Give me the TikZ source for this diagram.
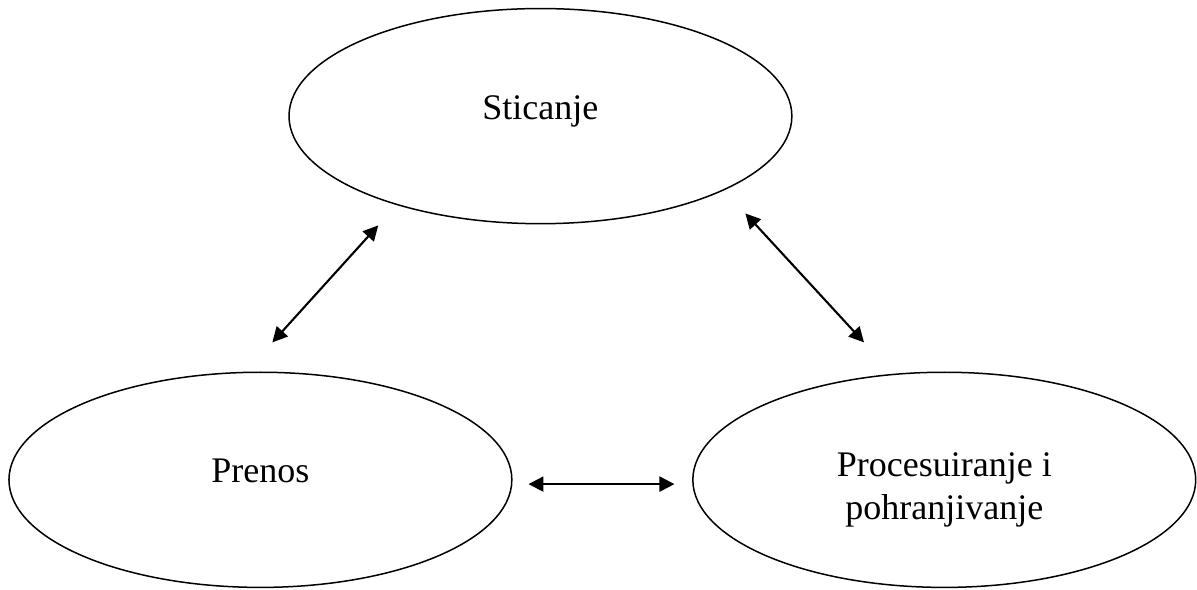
\documentclass[tikz,border=0pt]{standalone}
\usepackage{fontspec}
\setmainfont{Liberation Serif}
\usetikzlibrary{shapes.geometric,arrows.meta}
\begin{document}
\begin{tikzpicture}
\fontsize{12}{14.3}\selectfont
\useasboundingbox (0,0) rectangle (14.02,-6.90);
\begin{scope}[<->,>={Triangle[length=5pt,width=5pt]},line width=0.7pt,
              block1/.style={ellipse,draw,line width=0.5pt,align=center,
                             minimum width=5.89cm,minimum height=2.52cm,inner sep=0pt,
                             text height=8pt,text depth=6pt}]
    \node [block1] (1) at (6.33,-1.36) {Sticanje};
    \node [block1] (2) at (3.05,-5.62) {Prenos};
    \node [block1,text height=27pt,text depth=0.3pt] (3) at (11.06,-5.62) {Procesuiranje i \\ pohranjivanje};
    \coordinate (4) at (3.19,-4.01);
    \coordinate (5) at (4.43,-2.64);
    \coordinate (6) at (8.73,-2.50);
    \coordinate (7) at (10.12,-4.01);
    \coordinate (8) at (6.19,-5.67);
    \coordinate (9) at (7.90,-5.67);
    \path (4) edge (5);
    \path (6) edge (7);
    \path (8) edge (9);
\end{scope}
\end{tikzpicture}
\end{document}
